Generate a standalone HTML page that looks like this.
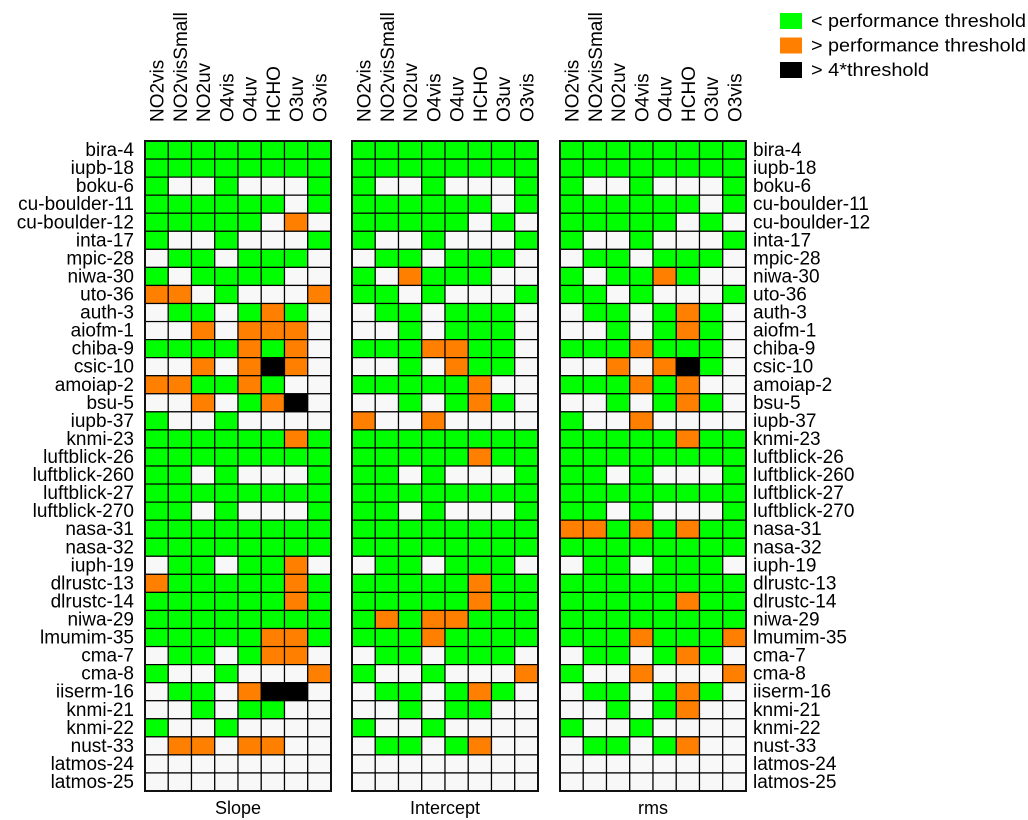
<!DOCTYPE html>
<html><head><meta charset="utf-8"><style>
html,body{margin:0;padding:0;background:#fff;}
svg{display:block;font-family:"Liberation Sans",Arial,sans-serif;}
</style></head><body>
<svg id="chart" width="1028" height="820" viewBox="0 0 1028 820" xmlns="http://www.w3.org/2000/svg"></svg>
<script>
const stations = ["bira-4","iupb-18","boku-6","cu-boulder-11","cu-boulder-12","inta-17","mpic-28","niwa-30","uto-36","auth-3","aiofm-1","chiba-9","csic-10","amoiap-2","bsu-5","iupb-37","knmi-23","luftblick-26","luftblick-260","luftblick-27","luftblick-270","nasa-31","nasa-32","iuph-19","dlrustc-13","dlrustc-14","niwa-29","lmumim-35","cma-7","cma-8","iiserm-16","knmi-21","knmi-22","nust-33","latmos-24","latmos-25"];
const products = ["NO2vis","NO2visSmall","NO2uv","O4vis","O4uv","HCHO","O3uv","O3vis"];
const panelTitles = ["Slope","Intercept","rms"];
// G = below threshold, O = above threshold, B = above 4*threshold, W = no data
const slopeGrid = ["GGGGGGGG","GGGGGGGG","GWWGWWWG","GGGGGGWG","GGGGGWOW","GWWGWWWG","WGGWGGGW","GWGGGGWW","OOWGWWWO","WGGWGOGW","WWOWOOOW","GGGGOGOW","WWOWOBOW","OOGGOGWW","WWOWGOBW","GWWGWWWW","GGGGGGOG","GGGGGGGG","GGWGWWWG","GGGGGGGG","GGWGWWWG","GGGGGGGG","GGGGGGGG","WGGWGGOW","OGGGGGOG","GGGGGGOG","GGGGGGGG","GGGGGOOG","WGGWGOOW","GWWGWWWO","WGGWOBBW","WWGWGGWW","GWWGWWWW","WOOWOOWW","WWWWWWWW","WWWWWWWW"];
const interceptGrid = ["GGGGGGGG","GGGGGGGG","GWWGWWWG","GGGGGGWG","GGGGGWGW","GWWGWWWG","WGGWGGGW","GWOGGGWW","GGWGWWWG","WGGWGGGW","WWGWGGGW","GGGOOGGW","WWGWOGGW","GGGGGOWW","WWGWGOGW","OWWOWWWW","GGGGGGGG","GGGGGOGG","GGWGWWWG","GGGGGGGG","GGWGWWWG","GGGGGGGG","GGGGGGGG","WGGWGGGW","GGGGGOGG","GGGGGOGG","GOGOOGGG","GGGOGGGG","WGGWGGGW","GWWGWWWO","WGGWGOGW","WWGWGGWW","GWWGWWWW","WGGWGOWW","WWWWWWWW","WWWWWWWW"];
const rmsGrid = ["GGGGGGGG","GGGGGGGG","GWWGWWWG","GGGGGGWG","GGGGGWGW","GWWGWWWG","WGGWGGGW","GWGGOGWW","GGWGWWWG","WGGWGOGW","WWGWGOGW","GGGOGGGW","WWOWOBGW","GGGOGOWW","WWGWGOGW","GWWOWWWW","GGGGGOGG","GGGGGGGG","GGWGWWWG","GGGGGGGG","GGWGWWWG","OOGOGOGG","GGGGGGGG","WGGWGGGW","GGGGGGGG","GGGGGOGG","GGGGGGGG","GGGOGGGO","WGGWGOGW","GWWOWWWO","WGGWGOGW","WWGWGOWW","GWWGWWWW","WGGWGOWW","WWWWWWWW","WWWWWWWW"];
const legendLabels = ["< performance threshold","> performance threshold","> 4*threshold"];

const NS="http://www.w3.org/2000/svg";
const svg=document.getElementById('chart');
const colors={G:"#00ff00",O:"#ff8000",B:"#000000",W:"#f8f8f8"};
const panelX=[145,352,560], panelW=186, gridTop=141, gridBottom=791;
const rowH=(gridBottom-gridTop)/stations.length;
function xPos(p,c){return panelX[p]+c*panelW/products.length;}
function yPos(r){return gridTop+r*rowH;}
function mk(tag,attrs){const e=document.createElementNS(NS,tag);for(const k in attrs)e.setAttribute(k,attrs[k]);svg.appendChild(e);return e;}
const grids=[slopeGrid,interceptGrid,rmsGrid];
const panelNames=['slope','intercept','rms'];
grids.forEach((grid,p)=>{
  grid.forEach((row,r)=>{
    for(let c=0;c<products.length;c++){
      const x0=xPos(p,c),x1=xPos(p,c+1);
      const rect=mk('rect',{x:x0,y:yPos(r),width:x1-x0,height:rowH,fill:colors[row[c]],stroke:"#000","stroke-width":1.2});
      
      
    }
  });
  const frame=mk('rect',{x:panelX[p],y:gridTop,width:panelW,height:gridBottom-gridTop,fill:"none",stroke:"#111","stroke-width":2});
  
  
  products.forEach((name,c)=>{
    const cx=(xPos(p,c)+xPos(p,c+1))/2+7;
    const t=mk('text',{x:0,y:0,transform:`translate(${cx},122) rotate(-90)`,"font-size":19,fill:"#000"});
    t.textContent=name;
    
    
  });
  const title=mk('text',{x:panelX[p]+panelW/2,y:814,"font-size":18,"text-anchor":"middle",fill:"#000"});
  title.textContent=panelTitles[p];
  
  
});
stations.forEach((s,r)=>{
  const cy=yPos(r)+rowH/2+6;
  const l=mk('text',{x:134,y:cy,"font-size":19,"text-anchor":"end",fill:"#000"});
  l.textContent=s;
  
  
  const rt=mk('text',{x:753,y:cy,"font-size":19,fill:"#000"});
  rt.textContent=s;
  
  
});
const legendColors=["#00ff00","#ff8000","#000000"];
const legendLens=[215,215,118];
legendLabels.forEach((lab,i)=>{
  const y=13+i*24.5;
  const sw=mk('rect',{x:780,y:y,width:22,height:16,fill:legendColors[i]});
  
  
  const t=mk('text',{x:811,y:y+14,"font-size":18,fill:"#000",textLength:legendLens[i],lengthAdjust:"spacingAndGlyphs"});
  t.textContent=lab;
  
  
});
</script>
</body></html>
